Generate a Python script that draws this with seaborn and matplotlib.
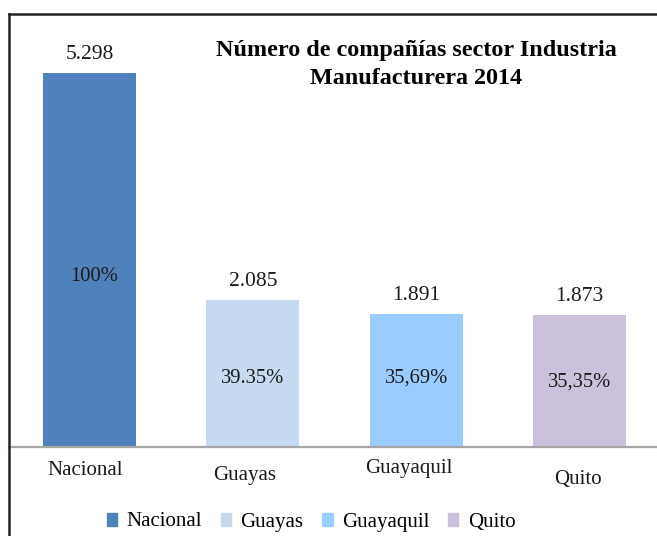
import matplotlib.pyplot as plt
import matplotlib.patches as mpatches
import seaborn as sns
import pandas as pd

categories = ["Nacional", "Guayas", "Guayaquil", "Quito"]
companies = [5298, 2085, 1891, 1873]
value_labels = ["5.298", "2.085", "1.891", "1.873"]
pct_labels = ["100%", "39.35%", "35,69%", "35,35%"]
colors = ["#4F81BD", "#C6D9F1", "#99CCFF", "#CCC1DA"]

df = pd.DataFrame({"region": categories, "companies": companies})

plt.rcParams["font.family"] = ["Liberation Serif", "DejaVu Serif"]

fig = plt.figure(figsize=(6.57, 5.36), dpi=100)
W, H = 657, 536
# axes spans baseline (y=447px) to the top of the tallest bar (y=73px)
ax = fig.add_axes([9 / W, 1 - 447 / H, 648 / W, 374 / H])

sns.barplot(data=df, x="region", y="companies", hue="region", palette=colors,
            width=0.57, legend=False, ax=ax, saturation=1)
ax.set_xlim(-0.493, 3.475)
ax.set_ylim(0, 5298)
ax.set_xlabel("")
ax.set_ylabel("")
ax.set_xticks([])
ax.set_yticks([])
for s in ["left", "right", "top"]:
    ax.spines[s].set_visible(False)
ax.spines["bottom"].set_color("#A6A6A6")
ax.spines["bottom"].set_linewidth(1.6)

# value labels above bars
for i, v in enumerate(companies):
    ax.annotate(value_labels[i], (i, v), xytext=(0, 13), textcoords="offset points",
                ha="center", va="center", fontsize=15.5, color="#1a1a1a")

# percentage labels inside bars
pct_y = [0.457, 0.184, 0.184, 0.174]
pct_dx = [0.03, 0, 0, 0]
for i, lab in enumerate(pct_labels):
    ax.text(i + pct_dx[i], pct_y[i], lab, transform=ax.get_xaxis_transform(),
            ha="center", va="center", fontsize=14.8, color="#1a1a1a")

# category labels, staggered like the original
cat_y = [-0.0615, -0.0775, -0.0588, -0.0882]
cat_dx = [-0.028, -0.05, -0.043, -0.01]
for i, lab in enumerate(categories):
    ax.text(i + cat_dx[i], cat_y[i], lab, transform=ax.get_xaxis_transform(),
            ha="center", va="center", fontsize=15, color="#1a1a1a", clip_on=False)

fig.text(416 / W, 1 - 64.5 / H, "Número de compañías sector Industria\nManufacturera 2014",
         ha="center", va="center", fontsize=17.4, fontweight="bold", linespacing=1.45)

handles = [mpatches.Patch(color=c, label=l) for c, l in zip(colors, categories)]
fig.legend(handles=handles, loc="center", bbox_to_anchor=(311 / W, 1 - 522 / H), ncol=4,
           frameon=False, fontsize=15, handlelength=0.5, handleheight=0.6,
           handletextpad=0.45, columnspacing=0.9, borderpad=0)

# outer frame (left and top edges visible)
fig.add_artist(plt.Line2D([9 / W, 9 / W], [0, 1 - 14 / H], color="#222222", lw=1.8,
                          transform=fig.transFigure))
fig.add_artist(plt.Line2D([9 / W, 1], [1 - 14 / H, 1 - 14 / H], color="#222222", lw=1.8,
                          transform=fig.transFigure))

fig.savefig("out.png", dpi=100)
plt.close(fig)
